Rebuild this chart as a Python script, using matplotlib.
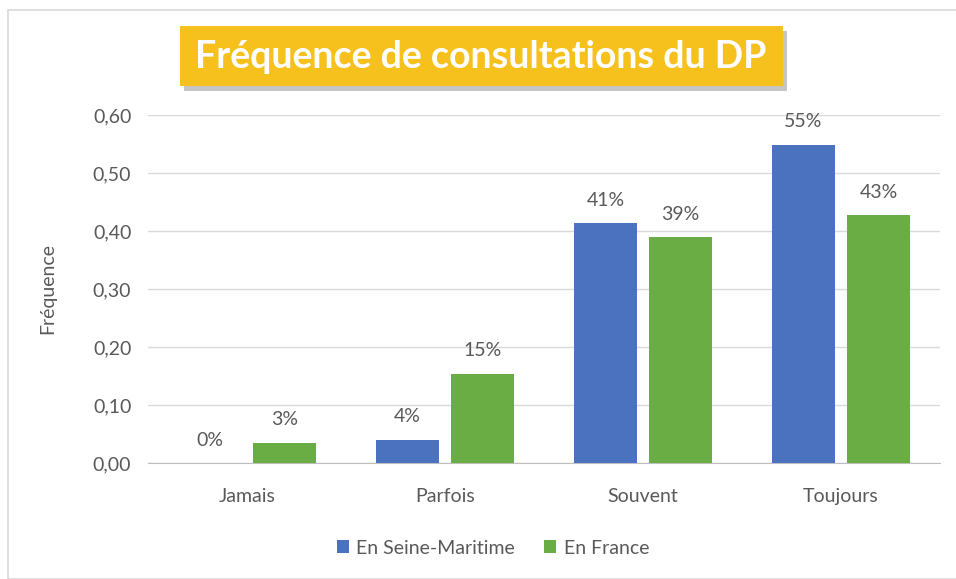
import numpy as np
import matplotlib.pyplot as plt
from matplotlib.patches import Rectangle

categories = ['Jamais', 'Parfois', 'Souvent', 'Toujours']
seine_maritime = [0.0, 0.04, 0.413, 0.549]
france = [0.035, 0.154, 0.389, 0.427]
seine_labels = ['0%', '4%', '41%', '55%']
france_labels = ['3%', '15%', '39%', '43%']
yticks = [0.0, 0.1, 0.2, 0.3, 0.4, 0.5, 0.6]

plt.rcParams['font.family'] = ['Lato', 'DejaVu Sans']

fig = plt.figure(figsize=(9.56, 5.79), dpi=100)

# chart border
fig.patches.append(Rectangle((8 / 956, 0), 1, 1 - 10 / 579, transform=fig.transFigure,
                             fill=False, edgecolor='#d9d9d9', linewidth=1.2))

ax = fig.add_axes([148 / 956, 1 - 463 / 579, 792 / 956, 348 / 579])

x = np.arange(len(categories))
w = 0.32
gap = 0.03
b1 = ax.bar(x - w / 2 - gap, seine_maritime, w, color='#4a72bf', label='En Seine-Maritime', zorder=3)
b2 = ax.bar(x + w / 2 + gap, france, w, color='#6aad45', label='En France', zorder=3)

for rects, labs in ((b1, seine_labels), (b2, france_labels)):
    for r, lab in zip(rects, labs):
        ax.text(r.get_x() + r.get_width() / 2, r.get_height() + 0.025, lab,
                ha='center', va='bottom', fontsize=14, color='#595959')

ax.set_xlim(-0.5, len(categories) - 0.5)
ax.set_ylim(0, 0.6)
ax.set_yticks(yticks)
ax.set_yticklabels([f'{v:.2f}'.replace('.', ',') for v in yticks], fontsize=14, color='#595959')
ax.set_xticks(x)
ax.set_xticklabels(categories, fontsize=14, color='#595959')
ax.tick_params(length=0, pad=12)
ax.tick_params(axis='x', pad=18)
ax.grid(axis='y', color='#d9d9d9', linewidth=1, zorder=0)
for s in ['top', 'right', 'left']:
    ax.spines[s].set_visible(False)
ax.spines['bottom'].set_color('#bfbfbf')
ax.set_ylabel('Fréquence', fontsize=14, color='#595959', labelpad=26)

fig.legend(*ax.get_legend_handles_labels(), loc='center',
           bbox_to_anchor=(493 / 956, 1 - 548 / 579), ncol=2, frameon=False,
           fontsize=14, labelcolor='#595959', handlelength=0.6, handleheight=0.6,
           columnspacing=1.5, handletextpad=0.4)

# title box with shadow
fig.patches.append(Rectangle((184 / 956, 1 - 91 / 579), 603 / 956, 60 / 579,
                             transform=fig.transFigure, facecolor='#7f7f7f', alpha=0.45,
                             edgecolor='none'))
fig.patches.append(Rectangle((180 / 956, 1 - 86 / 579), 603 / 956, 60 / 579,
                             transform=fig.transFigure, facecolor='#f6c11d', edgecolor='none'))
fig.text(481 / 956, 1 - 57 / 579, 'Fréquence de consultations du DP', ha='center', va='center',
         fontsize=27, fontweight='bold', color='white')

fig.savefig('out.png', dpi=100)
